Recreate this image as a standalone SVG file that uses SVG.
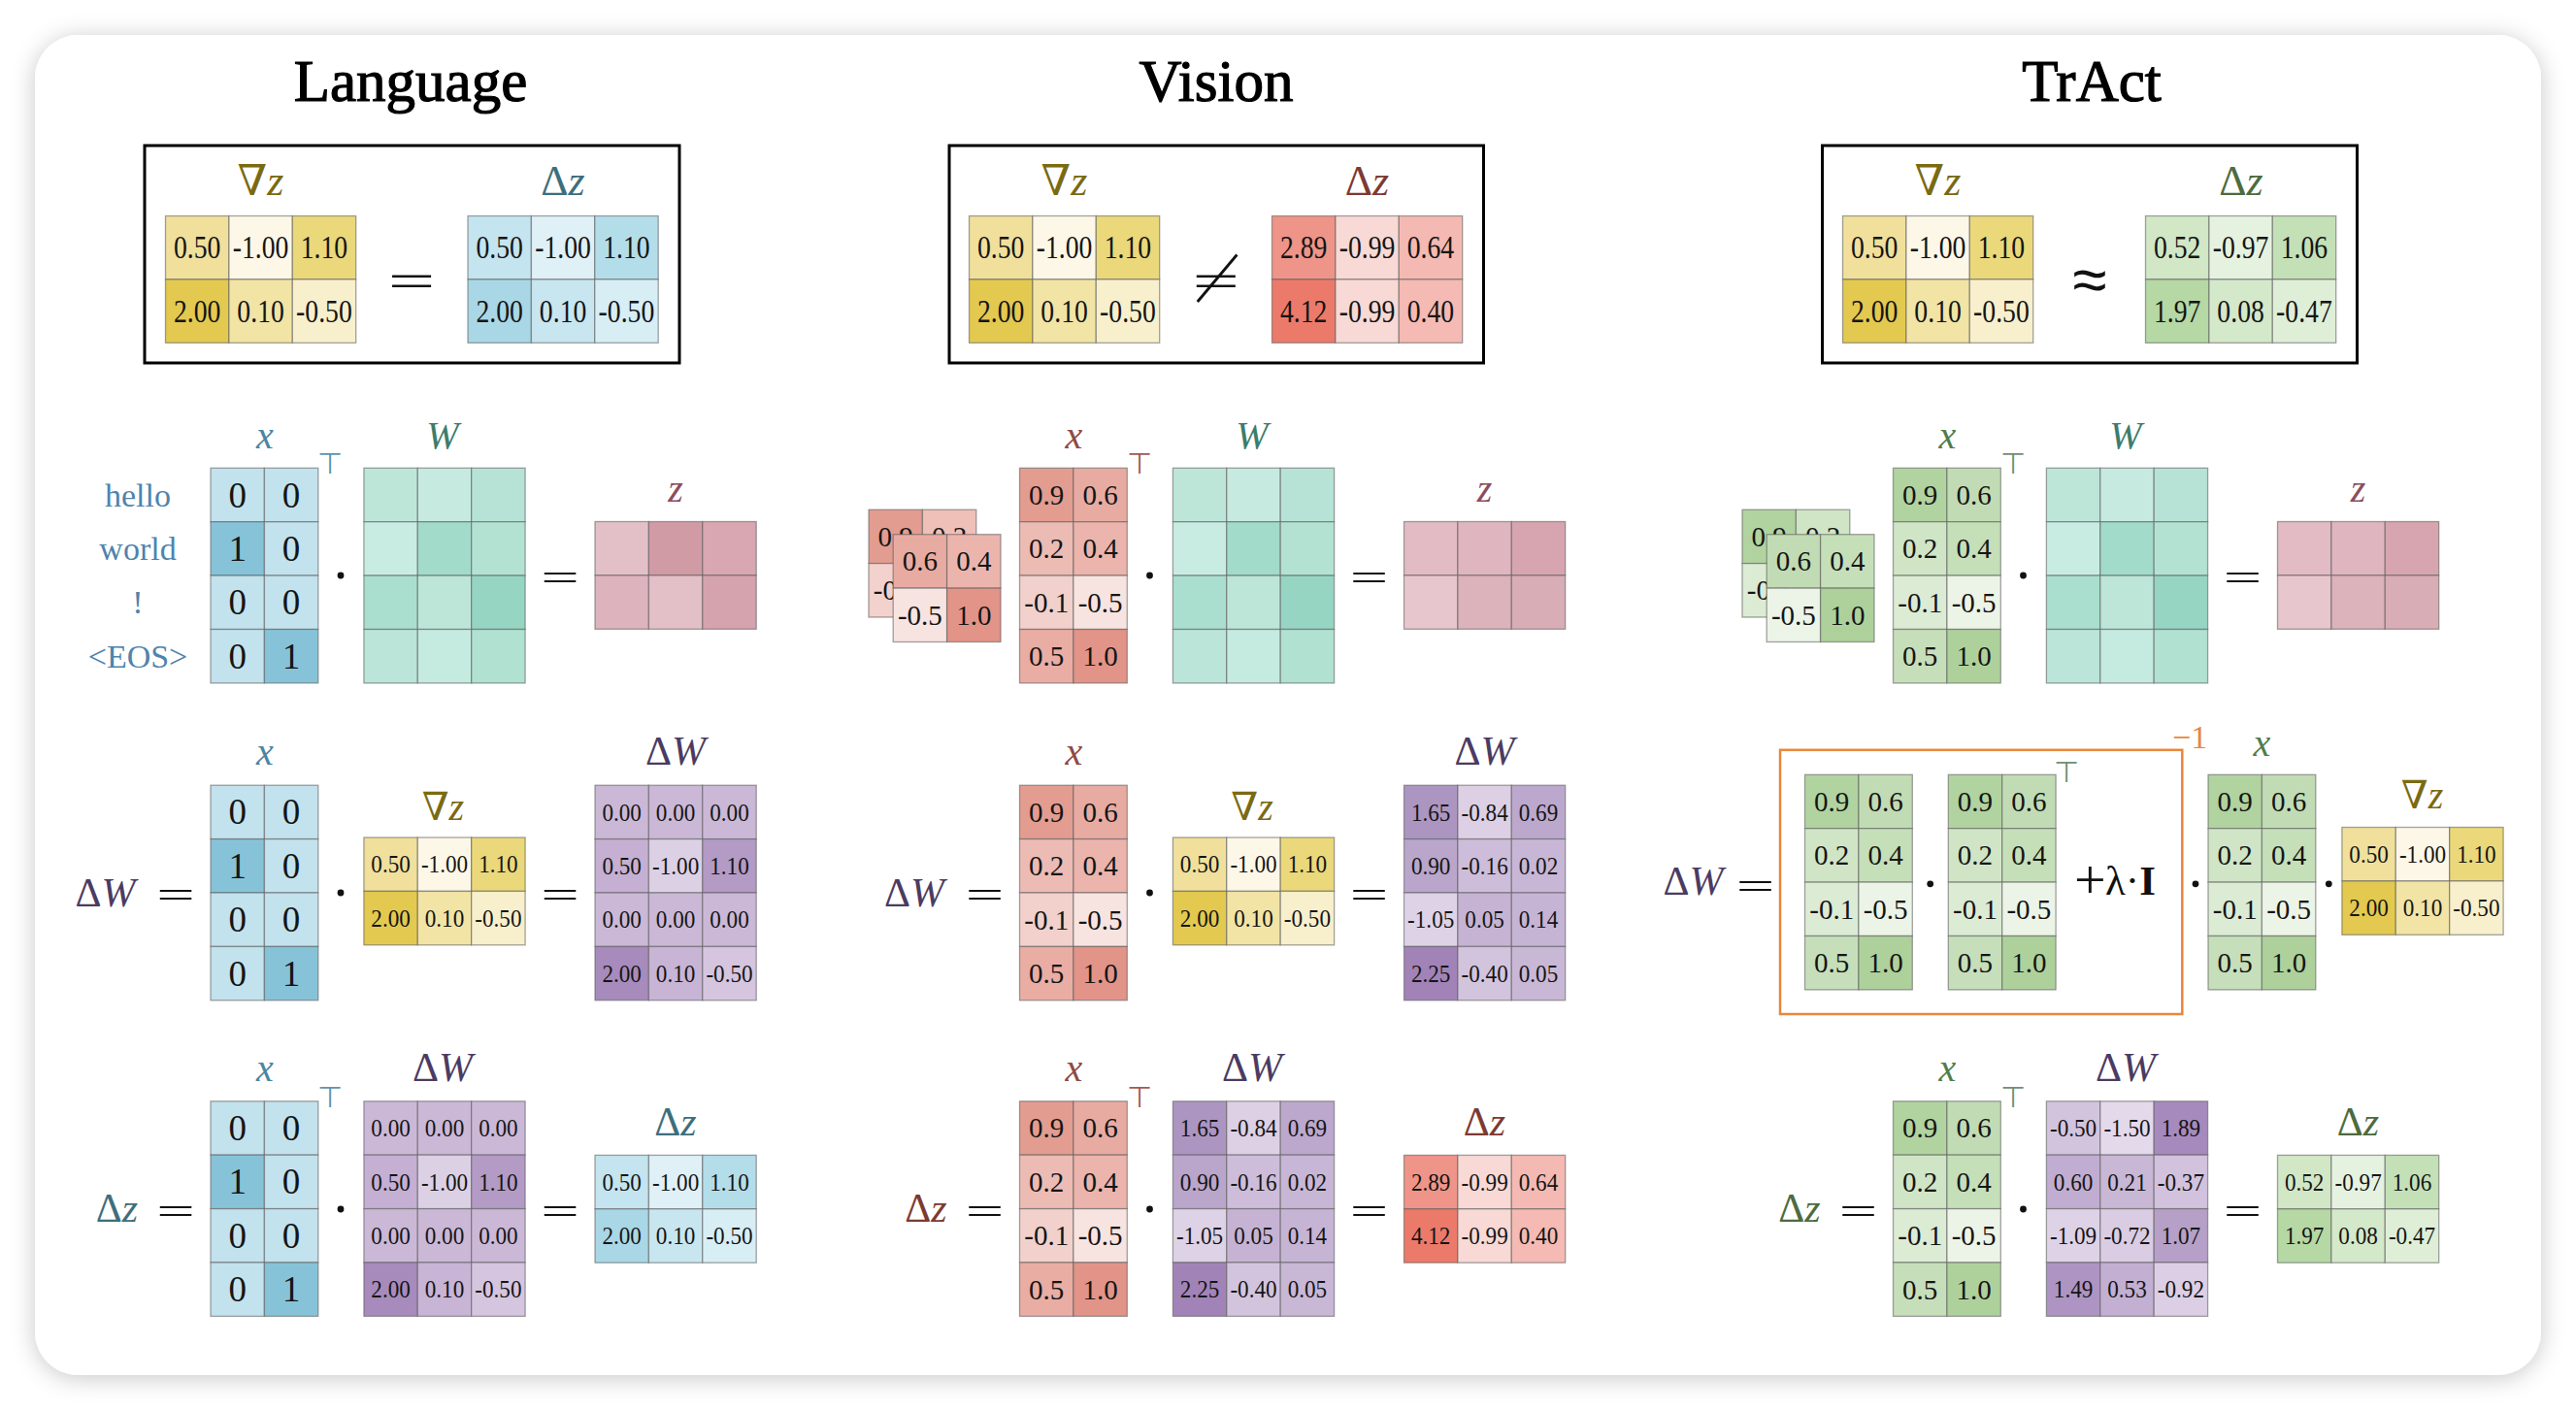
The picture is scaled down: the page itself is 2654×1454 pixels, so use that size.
<svg xmlns="http://www.w3.org/2000/svg" xmlns:xlink="http://www.w3.org/1999/xlink" width="2654" height="1454" viewBox="0 0 2654 1454">
<style>
.c{stroke:#5a5a5a;stroke-opacity:.55;stroke-width:1.3}
.n{font-family:"Liberation Serif","Times New Roman",serif;text-anchor:middle;fill:#151515}
.n3{font-size:33px}
.n2{font-size:26px}
.n1{font-size:29px}
.nb{font-size:37px}
.lb{font-family:"Liberation Serif","DejaVu Serif",serif;text-anchor:middle}
.it{font-style:italic}
.op{font-family:"DejaVu Sans",sans-serif;font-weight:200;text-anchor:middle;dominant-baseline:central;fill:#111}
.tp{font-family:"DejaVu Sans",sans-serif;font-weight:200;font-size:30px;text-anchor:middle}
.title{font-family:"Liberation Serif","Times New Roman",serif;font-size:61px;text-anchor:middle;fill:#000;stroke:#000;stroke-width:1.2}
.tok{font-family:"Liberation Serif","Times New Roman",serif;font-size:34px;text-anchor:middle;fill:#4f83ac}
</style>
<defs>
<filter id="sh" x="-3%" y="-4%" width="106%" height="108%"><feDropShadow dx="0" dy="3" stdDeviation="12" flood-color="#000" flood-opacity="0.22"/></filter>
<g id="yT"><g class="c"><rect width="65.4" height="65.4" fill="#f0e09c"/><rect x="65.4" width="65.4" height="65.4" fill="#fdf7e7"/><rect x="130.8" width="65.4" height="65.4" fill="#ead87a"/><rect y="65.4" width="65.4" height="65.4" fill="#e3c950"/><rect x="65.4" y="65.4" width="65.4" height="65.4" fill="#f1e4a5"/><rect x="130.8" y="65.4" width="65.4" height="65.4" fill="#f8efcc"/></g>
<g class="n n3" transform="scale(.84 1)"><text x="38.9" y="43.9">0.50</text><text x="116.8" y="43.9">-1.00</text><text x="194.6" y="43.9">1.10</text><text x="38.9" y="109.3">2.00</text><text x="116.8" y="109.3">0.10</text><text x="194.6" y="109.3">-0.50</text></g></g>
<g id="bT"><g class="c"><rect width="65.4" height="65.4" fill="#c4e4ef"/><rect x="65.4" width="65.4" height="65.4" fill="#dff0f6"/><rect x="130.8" width="65.4" height="65.4" fill="#b4ddea"/><rect y="65.4" width="65.4" height="65.4" fill="#a9d7e6"/><rect x="65.4" y="65.4" width="65.4" height="65.4" fill="#c8e6ef"/><rect x="130.8" y="65.4" width="65.4" height="65.4" fill="#d7eef5"/></g>
<g class="n n3" transform="scale(.84 1)"><text x="38.9" y="43.9">0.50</text><text x="116.8" y="43.9">-1.00</text><text x="194.6" y="43.9">1.10</text><text x="38.9" y="109.3">2.00</text><text x="116.8" y="109.3">0.10</text><text x="194.6" y="109.3">-0.50</text></g></g>
<g id="rT"><g class="c"><rect width="65.4" height="65.4" fill="#ef9488"/><rect x="65.4" width="65.4" height="65.4" fill="#f8d9d5"/><rect x="130.8" width="65.4" height="65.4" fill="#f4b9b2"/><rect y="65.4" width="65.4" height="65.4" fill="#ec7a6a"/><rect x="65.4" y="65.4" width="65.4" height="65.4" fill="#f8d9d5"/><rect x="130.8" y="65.4" width="65.4" height="65.4" fill="#f4bab3"/></g>
<g class="n n3" transform="scale(.84 1)"><text x="38.9" y="43.9">2.89</text><text x="116.8" y="43.9">-0.99</text><text x="194.6" y="43.9">0.64</text><text x="38.9" y="109.3">4.12</text><text x="116.8" y="109.3">-0.99</text><text x="194.6" y="109.3">0.40</text></g></g>
<g id="gT"><g class="c"><rect width="65.4" height="65.4" fill="#d1e7c6"/><rect x="65.4" width="65.4" height="65.4" fill="#e6f2e0"/><rect x="130.8" width="65.4" height="65.4" fill="#c4e0b7"/><rect y="65.4" width="65.4" height="65.4" fill="#b5d8a4"/><rect x="65.4" y="65.4" width="65.4" height="65.4" fill="#d4e8ca"/><rect x="130.8" y="65.4" width="65.4" height="65.4" fill="#dfeed7"/></g>
<g class="n n3" transform="scale(.84 1)"><text x="38.9" y="43.9">0.52</text><text x="116.8" y="43.9">-0.97</text><text x="194.6" y="43.9">1.06</text><text x="38.9" y="109.3">1.97</text><text x="116.8" y="109.3">0.08</text><text x="194.6" y="109.3">-0.47</text></g></g>
<g id="yS"><g class="c"><rect width="55.4" height="55.4" fill="#f0e09c"/><rect x="55.4" width="55.4" height="55.4" fill="#fdf7e7"/><rect x="110.8" width="55.4" height="55.4" fill="#ead87a"/><rect y="55.4" width="55.4" height="55.4" fill="#e3c950"/><rect x="55.4" y="55.4" width="55.4" height="55.4" fill="#f1e4a5"/><rect x="110.8" y="55.4" width="55.4" height="55.4" fill="#f8efcc"/></g>
<g class="n n2" transform="scale(.89 1)"><text x="31.1" y="36.5">0.50</text><text x="93.4" y="36.5">-1.00</text><text x="155.6" y="36.5">1.10</text><text x="31.1" y="91.9">2.00</text><text x="93.4" y="91.9">0.10</text><text x="155.6" y="91.9">-0.50</text></g></g>
<g id="bS"><g class="c"><rect width="55.4" height="55.4" fill="#c4e4ef"/><rect x="55.4" width="55.4" height="55.4" fill="#dff0f6"/><rect x="110.8" width="55.4" height="55.4" fill="#b4ddea"/><rect y="55.4" width="55.4" height="55.4" fill="#a9d7e6"/><rect x="55.4" y="55.4" width="55.4" height="55.4" fill="#c8e6ef"/><rect x="110.8" y="55.4" width="55.4" height="55.4" fill="#d7eef5"/></g>
<g class="n n2" transform="scale(.89 1)"><text x="31.1" y="36.5">0.50</text><text x="93.4" y="36.5">-1.00</text><text x="155.6" y="36.5">1.10</text><text x="31.1" y="91.9">2.00</text><text x="93.4" y="91.9">0.10</text><text x="155.6" y="91.9">-0.50</text></g></g>
<g id="rS"><g class="c"><rect width="55.4" height="55.4" fill="#ef9488"/><rect x="55.4" width="55.4" height="55.4" fill="#f8d9d5"/><rect x="110.8" width="55.4" height="55.4" fill="#f4b9b2"/><rect y="55.4" width="55.4" height="55.4" fill="#ec7a6a"/><rect x="55.4" y="55.4" width="55.4" height="55.4" fill="#f8d9d5"/><rect x="110.8" y="55.4" width="55.4" height="55.4" fill="#f4bab3"/></g>
<g class="n n2" transform="scale(.89 1)"><text x="31.1" y="36.5">2.89</text><text x="93.4" y="36.5">-0.99</text><text x="155.6" y="36.5">0.64</text><text x="31.1" y="91.9">4.12</text><text x="93.4" y="91.9">-0.99</text><text x="155.6" y="91.9">0.40</text></g></g>
<g id="gS"><g class="c"><rect width="55.4" height="55.4" fill="#d1e7c6"/><rect x="55.4" width="55.4" height="55.4" fill="#e6f2e0"/><rect x="110.8" width="55.4" height="55.4" fill="#c4e0b7"/><rect y="55.4" width="55.4" height="55.4" fill="#b5d8a4"/><rect x="55.4" y="55.4" width="55.4" height="55.4" fill="#d4e8ca"/><rect x="110.8" y="55.4" width="55.4" height="55.4" fill="#dfeed7"/></g>
<g class="n n2" transform="scale(.89 1)"><text x="31.1" y="36.5">0.52</text><text x="93.4" y="36.5">-0.97</text><text x="155.6" y="36.5">1.06</text><text x="31.1" y="91.9">1.97</text><text x="93.4" y="91.9">0.08</text><text x="155.6" y="91.9">-0.47</text></g></g>
<g id="xL"><g class="c"><rect width="55.4" height="55.4" fill="#c2e2ed"/><rect x="55.4" width="55.4" height="55.4" fill="#c2e2ed"/><rect y="55.4" width="55.4" height="55.4" fill="#87c3d8"/><rect x="55.4" y="55.4" width="55.4" height="55.4" fill="#c2e2ed"/><rect y="110.8" width="55.4" height="55.4" fill="#c2e2ed"/><rect x="55.4" y="110.8" width="55.4" height="55.4" fill="#c2e2ed"/><rect y="166.2" width="55.4" height="55.4" fill="#c2e2ed"/><rect x="55.4" y="166.2" width="55.4" height="55.4" fill="#87c3d8"/></g>
<g class="n nb"><text x="27.7" y="40.3">0</text><text x="83.1" y="40.3">0</text><text x="27.7" y="95.7">1</text><text x="83.1" y="95.7">0</text><text x="27.7" y="151.1">0</text><text x="83.1" y="151.1">0</text><text x="27.7" y="206.5">0</text><text x="83.1" y="206.5">1</text></g></g>
<g id="xV"><g class="c"><rect width="55.4" height="55.4" fill="#e39c90"/><rect x="55.4" width="55.4" height="55.4" fill="#e8aba2"/><rect y="55.4" width="55.4" height="55.4" fill="#ecbbb4"/><rect x="55.4" y="55.4" width="55.4" height="55.4" fill="#ebb4ac"/><rect y="110.8" width="55.4" height="55.4" fill="#f2d0cb"/><rect x="55.4" y="110.8" width="55.4" height="55.4" fill="#f7e4e1"/><rect y="166.2" width="55.4" height="55.4" fill="#e9ada4"/><rect x="55.4" y="166.2" width="55.4" height="55.4" fill="#e29488"/></g>
<g class="n n1"><text x="27.7" y="37.6">0.9</text><text x="83.1" y="37.6">0.6</text><text x="27.7" y="93">0.2</text><text x="83.1" y="93">0.4</text><text x="27.7" y="148.4">-0.1</text><text x="83.1" y="148.4">-0.5</text><text x="27.7" y="203.8">0.5</text><text x="83.1" y="203.8">1.0</text></g></g>
<g id="xT"><g class="c"><rect width="55.4" height="55.4" fill="#b1d3a0"/><rect x="55.4" width="55.4" height="55.4" fill="#c1dcb4"/><rect y="55.4" width="55.4" height="55.4" fill="#d0e5c6"/><rect x="55.4" y="55.4" width="55.4" height="55.4" fill="#c5dfb9"/><rect y="110.8" width="55.4" height="55.4" fill="#dcebd4"/><rect x="55.4" y="110.8" width="55.4" height="55.4" fill="#ecf4e7"/><rect y="166.2" width="55.4" height="55.4" fill="#c6dfba"/><rect x="55.4" y="166.2" width="55.4" height="55.4" fill="#aed19c"/></g>
<g class="n n1"><text x="27.7" y="37.6">0.9</text><text x="83.1" y="37.6">0.6</text><text x="27.7" y="93">0.2</text><text x="83.1" y="93">0.4</text><text x="27.7" y="148.4">-0.1</text><text x="83.1" y="148.4">-0.5</text><text x="27.7" y="203.8">0.5</text><text x="83.1" y="203.8">1.0</text></g></g>
<g id="W"><g class="c"><rect width="55.4" height="55.4" fill="#bde6d9"/><rect x="55.4" width="55.4" height="55.4" fill="#c6eae0"/><rect x="110.8" width="55.4" height="55.4" fill="#b6e3d5"/><rect y="55.4" width="55.4" height="55.4" fill="#c9ece2"/><rect x="55.4" y="55.4" width="55.4" height="55.4" fill="#a2dbc9"/><rect x="110.8" y="55.4" width="55.4" height="55.4" fill="#b3e2d3"/><rect y="110.8" width="55.4" height="55.4" fill="#aadfcf"/><rect x="55.4" y="110.8" width="55.4" height="55.4" fill="#bde6d9"/><rect x="110.8" y="110.8" width="55.4" height="55.4" fill="#97d5c3"/><rect y="166.2" width="55.4" height="55.4" fill="#bae5d8"/><rect x="55.4" y="166.2" width="55.4" height="55.4" fill="#c5eadf"/><rect x="110.8" y="166.2" width="55.4" height="55.4" fill="#b0e1d1"/></g></g>
<g id="zL"><g class="c"><rect width="55.4" height="55.4" fill="#e3c0c8"/><rect x="55.4" width="55.4" height="55.4" fill="#d19ba6"/><rect x="110.8" width="55.4" height="55.4" fill="#d8a7b1"/><rect y="55.4" width="55.4" height="55.4" fill="#ddb4bd"/><rect x="55.4" y="55.4" width="55.4" height="55.4" fill="#e3bfc7"/><rect x="110.8" y="55.4" width="55.4" height="55.4" fill="#d5a3ae"/></g></g>
<g id="zV"><g class="c"><rect width="55.4" height="55.4" fill="#e2bbc4"/><rect x="55.4" width="55.4" height="55.4" fill="#dfb6bf"/><rect x="110.8" width="55.4" height="55.4" fill="#d6a5b0"/><rect y="55.4" width="55.4" height="55.4" fill="#e7c6cd"/><rect x="55.4" y="55.4" width="55.4" height="55.4" fill="#dcb2bb"/><rect x="110.8" y="55.4" width="55.4" height="55.4" fill="#d9adb6"/></g></g>
<g id="dwL"><g class="c"><rect width="55.4" height="55.4" fill="#cbb8d7"/><rect x="55.4" width="55.4" height="55.4" fill="#cbb8d7"/><rect x="110.8" width="55.4" height="55.4" fill="#cbb8d7"/><rect y="55.4" width="55.4" height="55.4" fill="#c5afd2"/><rect x="55.4" y="55.4" width="55.4" height="55.4" fill="#dcd0e5"/><rect x="110.8" y="55.4" width="55.4" height="55.4" fill="#b39bc5"/><rect y="110.8" width="55.4" height="55.4" fill="#cbb8d7"/><rect x="55.4" y="110.8" width="55.4" height="55.4" fill="#cbb8d7"/><rect x="110.8" y="110.8" width="55.4" height="55.4" fill="#cbb8d7"/><rect y="166.2" width="55.4" height="55.4" fill="#a78bbc"/><rect x="55.4" y="166.2" width="55.4" height="55.4" fill="#c8b4d5"/><rect x="110.8" y="166.2" width="55.4" height="55.4" fill="#d5c5df"/></g>
<g class="n n2" transform="scale(.89 1)"><text x="31.1" y="36.5">0.00</text><text x="93.4" y="36.5">0.00</text><text x="155.6" y="36.5">0.00</text><text x="31.1" y="91.9">0.50</text><text x="93.4" y="91.9">-1.00</text><text x="155.6" y="91.9">1.10</text><text x="31.1" y="147.3">0.00</text><text x="93.4" y="147.3">0.00</text><text x="155.6" y="147.3">0.00</text><text x="31.1" y="202.7">2.00</text><text x="93.4" y="202.7">0.10</text><text x="155.6" y="202.7">-0.50</text></g></g>
<g id="dwV"><g class="c"><rect width="55.4" height="55.4" fill="#ad95c1"/><rect x="55.4" width="55.4" height="55.4" fill="#ddd0e5"/><rect x="110.8" width="55.4" height="55.4" fill="#bca8cd"/><rect y="55.4" width="55.4" height="55.4" fill="#baa5cb"/><rect x="55.4" y="55.4" width="55.4" height="55.4" fill="#cdbdda"/><rect x="110.8" y="55.4" width="55.4" height="55.4" fill="#c8b6d6"/><rect y="110.8" width="55.4" height="55.4" fill="#ded2e7"/><rect x="55.4" y="110.8" width="55.4" height="55.4" fill="#c6b3d4"/><rect x="110.8" y="110.8" width="55.4" height="55.4" fill="#c6b4d5"/><rect y="166.2" width="55.4" height="55.4" fill="#a283b8"/><rect x="55.4" y="166.2" width="55.4" height="55.4" fill="#d3c4de"/><rect x="110.8" y="166.2" width="55.4" height="55.4" fill="#c9b7d6"/></g>
<g class="n n2" transform="scale(.89 1)"><text x="31.1" y="36.5">1.65</text><text x="93.4" y="36.5">-0.84</text><text x="155.6" y="36.5">0.69</text><text x="31.1" y="91.9">0.90</text><text x="93.4" y="91.9">-0.16</text><text x="155.6" y="91.9">0.02</text><text x="31.1" y="147.3">-1.05</text><text x="93.4" y="147.3">0.05</text><text x="155.6" y="147.3">0.14</text><text x="31.1" y="202.7">2.25</text><text x="93.4" y="202.7">-0.40</text><text x="155.6" y="202.7">0.05</text></g></g>
</defs>

<rect width="2654" height="1454" fill="#ffffff"/>
<rect id="card" x="36" y="36" width="2582" height="1381" rx="45" fill="#ffffff" filter="url(#sh)"/>

<g id="titles">
<text class="title" x="423" y="104">Language</text>
<text class="title" x="1253" y="104">Vision</text>
<text class="title" x="2155" y="104">TrAct</text>
</g>

<!-- ============ LANGUAGE ============ -->
<g id="lang-top">
<rect x="149" y="150" width="551" height="224" fill="none" stroke="#000" stroke-width="3"/>
<text class="lb" x="268.5" y="201" font-size="44" fill="#7a6a12">∇<tspan class="it">z</tspan></text>
<use id="lang-top-grad" href="#yT" x="170.5" y="222.5"/>
<text class="op" x="424" y="288" font-size="64">=</text>
<text class="lb" x="580" y="201" font-size="44" fill="#3e6e7c">Δ<tspan class="it">z</tspan></text>
<use id="lang-top-dz" href="#bT" x="482" y="222.5"/>
</g>

<g id="lang-row1">
<text class="tok" x="142" y="522">hello</text>
<text class="tok" x="142" y="577">world</text>
<text class="tok" x="142" y="632">!</text>
<text class="tok" x="142" y="688">&lt;EOS&gt;</text>
<text class="lb it" x="273" y="461.5" font-size="40" fill="#4a86a3">x</text>
<text class="tp" x="340" y="488.4" fill="#5a96b0">⊤</text>
<use id="lang-x1" href="#xL" x="217" y="482.3"/>
<circle cx="351" cy="593" r="3.4" fill="#111"/>
<text class="lb it" x="456" y="461.5" font-size="40" fill="#3c7d6c">W</text>
<use id="lang-W" href="#W" x="374.9" y="482.3"/>
<text class="op" x="577" y="593" font-size="52">=</text>
<text class="lb it" x="696" y="516.7" font-size="40" fill="#8c4d60">z</text>
<use id="lang-z" href="#zL" x="613" y="537.5"/>
</g>

<g id="lang-row2">
<text class="lb" x="108.5" y="933.5" font-size="42" fill="#4b3b62">Δ<tspan class="it">W</tspan></text>
<text class="op" x="181" y="920" font-size="52">=</text>
<text class="lb it" x="273" y="787.8" font-size="40" fill="#4a86a3">x</text>
<use id="lang-x2" href="#xL" x="217" y="809.2"/>
<circle cx="351" cy="920" r="3.4" fill="#111"/>
<text class="lb" x="456.4" y="844.7" font-size="40" fill="#7a6a12">∇<tspan class="it">z</tspan></text>
<use id="lang-grad2" href="#yS" x="374.9" y="863"/>
<text class="op" x="577" y="920" font-size="52">=</text>
<text class="lb" x="696" y="787.8" font-size="42" fill="#4b3b62">Δ<tspan class="it">W</tspan></text>
<use id="lang-dW2" href="#dwL" x="613" y="809.2"/>
</g>

<g id="lang-row3">
<text class="lb" x="120.5" y="1259" font-size="42" fill="#3e6e7c">Δ<tspan class="it">z</tspan></text>
<text class="op" x="181" y="1246" font-size="52">=</text>
<text class="lb it" x="273" y="1114.3" font-size="40" fill="#4a86a3">x</text>
<text class="tp" x="340" y="1140.7" fill="#5a96b0">⊤</text>
<use id="lang-x3" href="#xL" x="217" y="1134.8"/>
<circle cx="351" cy="1246" r="3.4" fill="#111"/>
<text class="lb" x="456" y="1114.3" font-size="42" fill="#4b3b62">Δ<tspan class="it">W</tspan></text>
<use id="lang-dW3" href="#dwL" x="374.9" y="1134.8"/>
<text class="op" x="577" y="1246" font-size="52">=</text>
<text class="lb" x="696" y="1170.3" font-size="42" fill="#3e6e7c">Δ<tspan class="it">z</tspan></text>
<use id="lang-dz3" href="#bS" x="613" y="1190.4"/>
</g>

<!-- ============ VISION ============ -->
<g id="vis-top">
<rect x="978" y="150" width="550.5" height="224" fill="none" stroke="#000" stroke-width="3"/>
<text class="lb" x="1096.5" y="201" font-size="44" fill="#7a6a12">∇<tspan class="it">z</tspan></text>
<use id="vis-top-grad" href="#yT" x="998.5" y="222.5"/>
<text class="op" x="1252.8" y="288" font-size="64">≠</text>
<text class="lb" x="1408.5" y="201" font-size="44" fill="#7d3a32">Δ<tspan class="it">z</tspan></text>
<use id="vis-top-dz" href="#rT" x="1310.5" y="222.5"/>
</g>

<g id="vis-stack">
<g transform="translate(895 525.2)">
<g class="c"><rect width="55.4" height="55.4" fill="#e39c90"/><rect x="55.4" width="55.4" height="55.4" fill="#efc0b8"/><rect y="55.4" width="55.4" height="55.4" fill="#f3d1cc"/><rect x="55.4" y="55.4" width="55.4" height="55.4" fill="#e9ada4"/></g>
<g class="n n1"><text x="27.7" y="37.6">0.9</text><text x="83.1" y="37.6">0.2</text><text x="27.7" y="93">-0.1</text></g>
</g>
<g transform="translate(920.2 550.7)">
<g class="c"><rect width="55.4" height="55.4" fill="#e8aba2"/><rect x="55.4" width="55.4" height="55.4" fill="#ebb5ad"/><rect y="55.4" width="55.4" height="55.4" fill="#f7e4e1"/><rect x="55.4" y="55.4" width="55.4" height="55.4" fill="#e29488"/></g>
<g class="n n1"><text x="27.7" y="37.6">0.6</text><text x="83.1" y="37.6">0.4</text><text x="27.7" y="93">-0.5</text><text x="83.1" y="93">1.0</text></g>
</g>
</g>

<g id="vis-row1">
<text class="lb it" x="1106.5" y="461.5" font-size="40" fill="#8f4a44">x</text>
<text class="tp" x="1173.5" y="488.4" fill="#a55a50">⊤</text>
<use id="vis-x1" href="#xV" x="1050.5" y="482.3"/>
<circle cx="1184.5" cy="593" r="3.4" fill="#111"/>
<text class="lb it" x="1290" y="461.5" font-size="40" fill="#3c7d6c">W</text>
<use id="vis-W" href="#W" x="1208.4" y="482.3"/>
<text class="op" x="1410.5" y="593" font-size="52">=</text>
<text class="lb it" x="1529.5" y="516.7" font-size="40" fill="#8c4d60">z</text>
<use id="vis-z" href="#zV" x="1446.5" y="537.5"/>
</g>

<g id="vis-row2">
<text class="lb" x="942" y="933.5" font-size="42" fill="#4b3b62">Δ<tspan class="it">W</tspan></text>
<text class="op" x="1014.5" y="920" font-size="52">=</text>
<text class="lb it" x="1106.5" y="787.8" font-size="40" fill="#8f4a44">x</text>
<use id="vis-x2" href="#xV" x="1050.5" y="809.2"/>
<circle cx="1184.5" cy="920" r="3.4" fill="#111"/>
<text class="lb" x="1290" y="844.7" font-size="40" fill="#7a6a12">∇<tspan class="it">z</tspan></text>
<use id="vis-grad2" href="#yS" x="1208.4" y="863"/>
<text class="op" x="1410.5" y="920" font-size="52">=</text>
<text class="lb" x="1529.5" y="787.8" font-size="42" fill="#4b3b62">Δ<tspan class="it">W</tspan></text>
<use id="vis-dW2" href="#dwV" x="1446.5" y="809.2"/>
</g>

<g id="vis-row3">
<text class="lb" x="954" y="1259" font-size="42" fill="#7d3a32">Δ<tspan class="it">z</tspan></text>
<text class="op" x="1014.5" y="1246" font-size="52">=</text>
<text class="lb it" x="1106.5" y="1114.3" font-size="40" fill="#8f4a44">x</text>
<text class="tp" x="1173.5" y="1140.7" fill="#a55a50">⊤</text>
<use id="vis-x3" href="#xV" x="1050.5" y="1134.8"/>
<circle cx="1184.5" cy="1246" r="3.4" fill="#111"/>
<text class="lb" x="1290" y="1114.3" font-size="42" fill="#4b3b62">Δ<tspan class="it">W</tspan></text>
<use id="vis-dW3" href="#dwV" x="1208.4" y="1134.8"/>
<text class="op" x="1410.5" y="1246" font-size="52">=</text>
<text class="lb" x="1529.5" y="1170.3" font-size="42" fill="#7d3a32">Δ<tspan class="it">z</tspan></text>
<use id="vis-dz3" href="#rS" x="1446.5" y="1190.4"/>
</g>

<!-- ============ TRACT ============ -->
<g id="tract-top">
<rect x="1877.5" y="150" width="551" height="224" fill="none" stroke="#000" stroke-width="3"/>
<text class="lb" x="1996.5" y="201" font-size="44" fill="#7a6a12">∇<tspan class="it">z</tspan></text>
<use id="tract-top-grad" href="#yT" x="1898.5" y="222.5"/>
<text class="op" x="2152.7" y="288" font-size="64">≈</text>
<text class="lb" x="2309" y="201" font-size="44" fill="#4d6b3e">Δ<tspan class="it">z</tspan></text>
<use id="tract-top-dz" href="#gT" x="2210.5" y="222.5"/>
</g>

<g id="tract-stack">
<g transform="translate(1795 525.2)">
<g class="c"><rect width="55.4" height="55.4" fill="#b1d3a0"/><rect x="55.4" width="55.4" height="55.4" fill="#d0e5c6"/><rect y="55.4" width="55.4" height="55.4" fill="#dcebd4"/><rect x="55.4" y="55.4" width="55.4" height="55.4" fill="#c6dfba"/></g>
<g class="n n1"><text x="27.7" y="37.6">0.9</text><text x="83.1" y="37.6">0.2</text><text x="27.7" y="93">-0.1</text></g>
</g>
<g transform="translate(1820.2 550.7)">
<g class="c"><rect width="55.4" height="55.4" fill="#c1dcb4"/><rect x="55.4" width="55.4" height="55.4" fill="#c5dfb9"/><rect y="55.4" width="55.4" height="55.4" fill="#ecf4e7"/><rect x="55.4" y="55.4" width="55.4" height="55.4" fill="#aed19c"/></g>
<g class="n n1"><text x="27.7" y="37.6">0.6</text><text x="83.1" y="37.6">0.4</text><text x="27.7" y="93">-0.5</text><text x="83.1" y="93">1.0</text></g>
</g>
</g>

<g id="tract-row1">
<text class="lb it" x="2006.5" y="461.5" font-size="40" fill="#4f7d4c">x</text>
<text class="tp" x="2073.5" y="488.4" fill="#6f8f72">⊤</text>
<use id="tract-x1" href="#xT" x="1950.5" y="482.3"/>
<circle cx="2084.5" cy="593" r="3.4" fill="#111"/>
<text class="lb it" x="2190" y="461.5" font-size="40" fill="#3c7d6c">W</text>
<use id="tract-W" href="#W" x="2108.4" y="482.3"/>
<text class="op" x="2310.5" y="593" font-size="52">=</text>
<text class="lb it" x="2429.5" y="516.7" font-size="40" fill="#8c4d60">z</text>
<use id="tract-z" href="#zV" x="2346.5" y="537.5"/>
</g>

<g id="tract-row2">
<text class="lb" x="1744.6" y="922" font-size="42" fill="#4b3b62">Δ<tspan class="it">W</tspan></text>
<text class="op" x="1808.6" y="910.8" font-size="52">=</text>
<rect id="tract-inv-box" x="1834" y="772.8" width="414.3" height="272.2" fill="none" stroke="#e8873d" stroke-width="2.5"/>
<text x="2238" y="771" font-family="Liberation Serif, serif" font-size="34" fill="#e8873d">−1</text>
<use id="tract-xA" href="#xT" x="1859.5" y="798.3"/>
<circle cx="1988.7" cy="910.8" r="3.4" fill="#111"/>
<use id="tract-xB" href="#xT" x="2007.3" y="798.3"/>
<text class="tp" x="2129" y="806" fill="#6f8f72">⊤</text>
<text y="922" font-family="Liberation Serif, serif" font-size="43" fill="#111"><tspan x="2137" y="925.5" font-size="58">+</tspan><tspan x="2169" y="922">λ·</tspan><tspan font-weight="bold">I</tspan></text>
<circle cx="2262" cy="910.8" r="3.4" fill="#111"/>
<text class="lb it" x="2330.3" y="778.7" font-size="40" fill="#4f7d4c">x</text>
<use id="tract-xC" href="#xT" x="2275" y="798.3"/>
<circle cx="2399.3" cy="910.8" r="3.4" fill="#111"/>
<text class="lb" x="2495.5" y="833.4" font-size="40" fill="#7a6a12">∇<tspan class="it">z</tspan></text>
<use id="tract-grad2" href="#yS" x="2412.9" y="852.5"/>
</g>

<g id="tract-row3">
<text class="lb" x="1854" y="1259" font-size="42" fill="#4d6b3e">Δ<tspan class="it">z</tspan></text>
<text class="op" x="1914.5" y="1246" font-size="52">=</text>
<text class="lb it" x="2006.5" y="1114.3" font-size="40" fill="#4f7d4c">x</text>
<text class="tp" x="2073.5" y="1140.7" fill="#6f8f72">⊤</text>
<use id="tract-x3" href="#xT" x="1950.5" y="1134.8"/>
<circle cx="2084.5" cy="1246" r="3.4" fill="#111"/>
<text class="lb" x="2190" y="1114.3" font-size="42" fill="#4b3b62">Δ<tspan class="it">W</tspan></text>
<g id="tract-dW3" transform="translate(2108.4 1134.8)">
<g class="c"><rect width="55.4" height="55.4" fill="#d3c4de"/><rect x="55.4" width="55.4" height="55.4" fill="#e4d9eb"/><rect x="110.8" width="55.4" height="55.4" fill="#a78abd"/><rect y="55.4" width="55.4" height="55.4" fill="#c1add1"/><rect x="55.4" y="55.4" width="55.4" height="55.4" fill="#c9b7d6"/><rect x="110.8" y="55.4" width="55.4" height="55.4" fill="#d2c2dd"/><rect y="110.8" width="55.4" height="55.4" fill="#ded2e7"/><rect x="55.4" y="110.8" width="55.4" height="55.4" fill="#d9cce3"/><rect x="110.8" y="110.8" width="55.4" height="55.4" fill="#b6a0c8"/><rect y="166.2" width="55.4" height="55.4" fill="#ae94c3"/><rect x="55.4" y="166.2" width="55.4" height="55.4" fill="#c2afd2"/><rect x="110.8" y="166.2" width="55.4" height="55.4" fill="#dccfe5"/></g>
<g class="n n2" transform="scale(.89 1)"><text x="31.1" y="36.5">-0.50</text><text x="93.4" y="36.5">-1.50</text><text x="155.6" y="36.5">1.89</text><text x="31.1" y="91.9">0.60</text><text x="93.4" y="91.9">0.21</text><text x="155.6" y="91.9">-0.37</text><text x="31.1" y="147.3">-1.09</text><text x="93.4" y="147.3">-0.72</text><text x="155.6" y="147.3">1.07</text><text x="31.1" y="202.7">1.49</text><text x="93.4" y="202.7">0.53</text><text x="155.6" y="202.7">-0.92</text></g>
</g>
<text class="op" x="2310.5" y="1246" font-size="52">=</text>
<text class="lb" x="2429.5" y="1170.3" font-size="42" fill="#4d6b3e">Δ<tspan class="it">z</tspan></text>
<use id="tract-dz3" href="#gS" x="2346.5" y="1190.4"/>
</g>
</svg>
